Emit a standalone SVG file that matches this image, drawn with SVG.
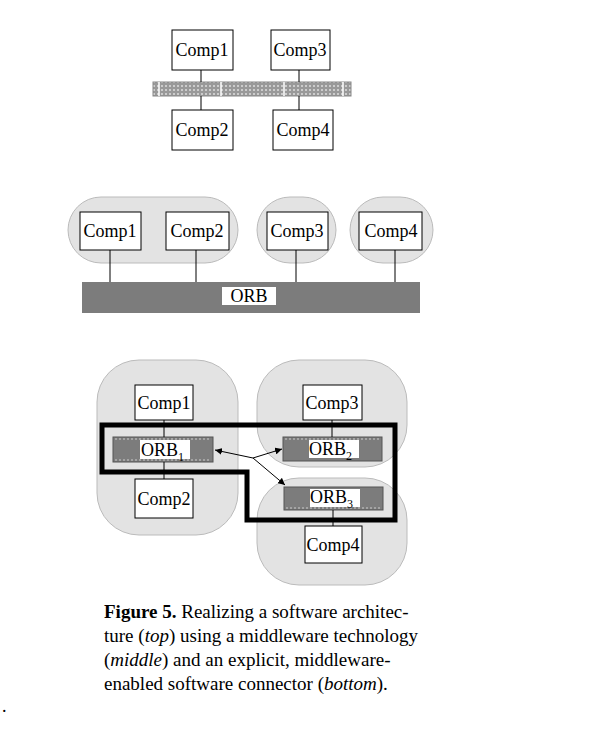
<svg xmlns="http://www.w3.org/2000/svg" width="601" height="733" viewBox="0 0 601 733">
<defs>
<style>
text{font-family:"Liberation Serif",serif;font-size:18px;fill:#000}
.c{text-anchor:middle}
.box{fill:#fff;stroke:#000;stroke-width:1}
.grp{fill:#e3e3e3;stroke:#bbb;stroke-width:1}
.ln{stroke:#000;stroke-width:1;fill:none}
.orb{fill:#7c7c7c;stroke:#555;stroke-width:1}
.cap{font-size:19px}
</style>
<pattern id="dots" width="4" height="4" patternUnits="userSpaceOnUse"><rect width="4" height="4" fill="#999"/><rect x="1" y="1" width="2" height="2" fill="#ccc"/></pattern>
<marker id="ah" viewBox="0 0 10 10" refX="10" refY="5" markerWidth="7" markerHeight="7" orient="auto-start-reverse"><path d="M0,0L10,5L0,10z" fill="#000"/></marker>
</defs>
<rect width="601" height="733" fill="#fff"/>
<g id="bus"><rect x="153" y="82" width="198" height="14" fill="url(#dots)" stroke="#888"/>
<path d="M159,82V96M221,82V96M284,82V96M343,82V96" stroke="#fff" stroke-width="1.5"/></g>
<g id="t-comp1"><rect class="box" x="172" y="30" width="61" height="40"/><text class="c" x="202" y="56">Comp1</text></g>
<g id="t-comp3"><rect class="box" x="271" y="30" width="59" height="40"/><text class="c" x="300" y="56">Comp3</text></g>
<g id="t-comp2"><rect class="box" x="172" y="110" width="61" height="40"/><text class="c" x="202" y="136">Comp2</text></g>
<g id="t-comp4"><rect class="box" x="273" y="110" width="60" height="40"/><text class="c" x="303" y="136">Comp4</text></g>
<g id="m-grp1"><rect class="grp" x="68" y="197" width="170" height="66" rx="33"/>
<rect class="box" x="80" y="212" width="61" height="38"/><text class="c" x="110" y="237">Comp1</text>
<rect class="box" x="166" y="212" width="63" height="38"/><text class="c" x="197" y="237">Comp2</text></g>
<g id="m-grp2"><rect class="grp" x="257" y="197" width="79" height="66" rx="33"/>
<rect class="box" x="267" y="212" width="61" height="38"/><text class="c" x="297" y="237">Comp3</text></g>
<g id="m-grp3"><rect class="grp" x="350" y="197" width="83" height="66" rx="33"/>
<rect class="box" x="359" y="212" width="63" height="38"/><text class="c" x="391" y="237">Comp4</text></g>
<g id="m-orb"><rect x="82" y="282" width="338" height="31" fill="#7c7c7c"/>
<rect x="222" y="287" width="54" height="18" fill="#fff"/><text class="c" x="249" y="302">ORB</text></g>
<g id="b-grp1"><rect class="grp" x="97" y="360" width="141" height="175" rx="42"/></g>
<g id="b-grp2"><rect class="grp" x="257" y="360" width="150" height="107" rx="42"/></g>
<g id="b-grp3"><rect class="grp" x="257" y="478" width="150" height="107" rx="42"/></g>
<g id="b-comp1"><rect class="box" x="135" y="385" width="58" height="35"/><text class="c" x="164" y="409">Comp1</text></g>
<g id="b-comp3"><rect class="box" x="303" y="385" width="59" height="35"/><text class="c" x="332" y="409">Comp3</text></g>
<g id="b-comp2"><rect class="box" x="135" y="479" width="58" height="39"/><text class="c" x="164" y="505">Comp2</text></g>
<g id="b-comp4"><rect class="box" x="305" y="526" width="57" height="37"/><text class="c" x="333" y="551">Comp4</text></g>
<g id="orb1"><rect class="orb" x="113" y="437" width="100" height="25"/>
<path d="M115,439H211M115,460H211" stroke="#ccc" stroke-dasharray="2,2"/>
<rect x="140" y="440" width="50" height="19" fill="#fff"/><text x="141" y="456">ORB<tspan font-size="12" dy="5">1</tspan></text></g>
<g id="orb2"><rect class="orb" x="283" y="437" width="99" height="24"/>
<path d="M285,439H380" stroke="#ccc" stroke-dasharray="2,2"/>
<rect x="309" y="440" width="50" height="18" fill="#fff"/><text x="309" y="455">ORB<tspan font-size="12" dy="5">2</tspan></text></g>
<g id="orb3"><rect class="orb" x="284" y="487" width="99" height="23"/>
<path d="M286,508H381" stroke="#ccc" stroke-dasharray="2,2"/>
<rect x="310" y="489" width="50" height="18" fill="#fff"/><text x="310" y="503">ORB<tspan font-size="12" dy="5">3</tspan></text></g>
<g id="connectors">
<path class="ln" d="M201,70V82M201,96V110M299,70V82M299,96V110"/>
<path class="ln" d="M110,250V282M196,250V282M296,250V282M395,250V282"/>
<path class="ln" d="M164,420V437M164,462V479M332,420V437M333,510V526"/>
<path d="M102,425H395V520H247V472H102Z" fill="none" stroke="#000" stroke-width="5"/>
<path class="ln" stroke-width="1.8" d="M253,458L215,450" marker-end="url(#ah)"/>
<path class="ln" stroke-width="1.8" d="M253,458L282,449" marker-end="url(#ah)"/>
<path class="ln" stroke-width="1.8" d="M253,458L285,485" marker-end="url(#ah)"/>
</g>
<text class="cap" x="104" y="618"><tspan font-weight="bold">Figure 5.</tspan> Realizing a software architec-</text>
<text class="cap" x="104" y="642">ture (<tspan font-style="italic">top</tspan>) using a middleware technology</text>
<text class="cap" x="104" y="666">(<tspan font-style="italic">middle</tspan>) and an explicit, middleware-</text>
<text class="cap" x="104" y="690">enabled software connector (<tspan font-style="italic">bottom</tspan>).</text>
<text x="2" y="712">.</text>
</svg>
